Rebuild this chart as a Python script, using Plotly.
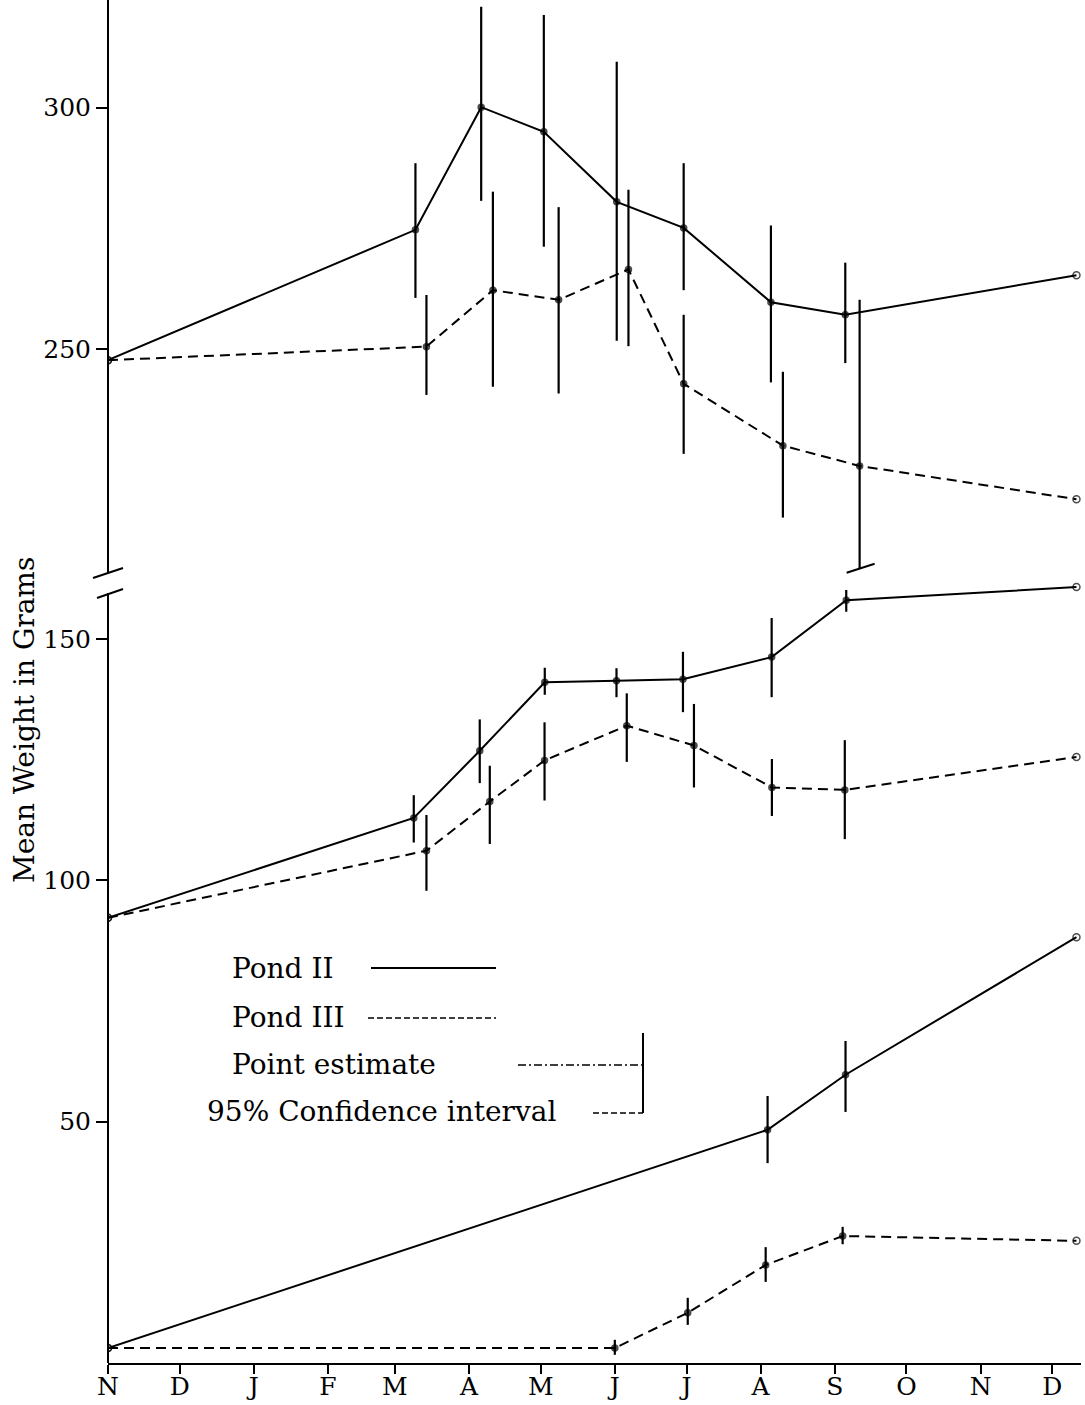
import plotly.graph_objects as go

# ---------------- data ----------------
# x values: days after 1 November; y values: mean weight (grams)
month_labels = ["N", "D", "J", "F", "M", "A", "M", "J", "J", "A", "S", "O", "N", "D"]
month_days = [0, 30, 61, 92, 120, 151, 181, 212, 242, 273, 304, 334, 365, 395]

# upper group (older fish)
days_p2_upper = [0, 128.6, 156.1, 182.3, 212.8, 240.8, 277.3, 308.4, 405.1]
p2_upper = [247.7, 274.7, 300.1, 295.0, 280.5, 275.1, 259.7, 257.1, 265.3]
p2_upper_hi = [None, 288.5, 320.9, 319.2, 309.5, 288.5, 275.6, 267.9, None]
p2_upper_lo = [None, 260.6, 280.7, 271.2, 251.7, 262.2, 243.1, 247.1, None]

days_p3_upper = [0, 133.2, 161.0, 188.5, 217.7, 240.8, 282.3, 314.4, 405.1]
p3_upper = [247.7, 250.5, 262.2, 260.2, 266.5, 242.8, 230.0, 225.8, 218.9]
p3_upper_hi = [None, 261.2, 282.6, 279.4, 283.0, 257.1, 245.3, 260.2, None]
p3_upper_lo = [None, 240.5, 242.2, 240.8, 250.6, 228.3, 215.1, 204.5, None]

# middle group
days_p2_mid = [0, 127.9, 155.5, 182.7, 212.7, 240.5, 277.6, 308.8, 405.1]
p2_mid = [92.2, 112.9, 126.8, 141.0, 141.3, 141.6, 146.2, 158.0, 160.7]
p2_mid_hi = [None, 117.6, 133.3, 144.0, 143.9, 147.3, 154.3, 160.1, None]
p2_mid_lo = [None, 107.8, 120.1, 138.4, 137.9, 134.8, 137.9, 155.6, None]

days_p3_mid = [0, 133.2, 159.7, 182.6, 217.0, 245.1, 277.7, 308.2, 405.1]
p3_mid = [92.2, 106.1, 116.3, 124.8, 132.0, 127.9, 119.2, 118.7, 125.5]
p3_mid_hi = [None, 113.5, 123.7, 132.7, 138.7, 136.5, 125.1, 129.0, None]
p3_mid_lo = [None, 97.8, 107.5, 116.5, 124.5, 119.2, 113.3, 108.5, None]

# lower group (young of the year)
days_p2_low = [0, 275.9, 308.5, 405.1]
p2_low = [3.1, 48.3, 59.7, 88.2]
p2_low_hi = [None, 55.3, 66.7, None]
p2_low_lo = [None, 41.4, 52.0, None]

days_p3_low = [0, 212.0, 242.5, 275.1, 307.3, 405.1]
p3_low = [3.1, 3.1, 10.4, 20.3, 26.3, 25.3]
p3_low_hi = [None, 4.8, 13.5, 24.0, 28.2, None]
p3_low_lo = [None, 1.7, 7.9, 16.8, 24.6, None]

y_tick_values = [50, 100, 150, 250, 300]

# ---------------- layout constants ----------------
BREAK_OFFSET = 40        # grams removed by the axis break
XMAX = 407
YMAX = 282.3
W, H = 1085, 1405
L, R, T, B = 108, 4, 0, 42
PW, PH = W - L - R, H - T - B
FONT = "DejaVu Serif"
DASH = "10px,6px"


def shifted(v):
    return v - BREAK_OFFSET if v >= 200 else v


def px(xp):
    return (xp - L) / PW


def py(yp):
    return (T + PH - yp) / PH


fig = go.Figure()


def add_group(days, vals, hi, lo, dashed):
    ys = [shifted(v) for v in vals]
    plus = [0 if h is None else h - v for h, v in zip(hi, vals)]
    minus = [0 if l is None else v - l for l, v in zip(lo, vals)]
    symbols = ["circle-open" if h is None else "circle" for h in hi]
    sizes = [7 if h is None else 6 for h in hi]
    fig.add_trace(go.Scatter(
        x=days, y=ys, mode="lines+markers",
        line=dict(color="black", width=2, dash=DASH if dashed else "solid"),
        marker=dict(symbol=symbols, size=sizes, color="black",
                    line=dict(color="black", width=1.5)),
        error_y=dict(type="data", symmetric=False, array=plus, arrayminus=minus,
                     width=0, thickness=2.2, color="black"),
        showlegend=False, hoverinfo="x+y",
    ))


add_group(days_p2_upper, p2_upper, p2_upper_hi, p2_upper_lo, False)
add_group(days_p3_upper, p3_upper, p3_upper_hi, p3_upper_lo, True)
add_group(days_p2_mid, p2_mid, p2_mid_hi, p2_mid_lo, False)
add_group(days_p3_mid, p3_mid, p3_mid_hi, p3_mid_lo, True)
add_group(days_p2_low, p2_low, p2_low_hi, p2_low_lo, False)
add_group(days_p3_low, p3_low, p3_low_hi, p3_low_lo, True)

shapes = []
# y axis line with a gap at the break
gap_lo, gap_hi = py(593), py(572)
shapes.append(dict(type="line", xref="paper", yref="paper", x0=0, x1=0, y0=0, y1=gap_lo,
                   line=dict(color="black", width=2)))
shapes.append(dict(type="line", xref="paper", yref="paper", x0=0, x1=0, y0=gap_hi, y1=1,
                   line=dict(color="black", width=2)))
# break slashes
shapes.append(dict(type="line", xref="paper", yref="paper", x0=px(93), x1=px(123),
                   y0=py(578), y1=py(568), line=dict(color="black", width=2)))
shapes.append(dict(type="line", xref="paper", yref="paper", x0=px(97), x1=px(123),
                   y0=py(598), y1=py(589), line=dict(color="black", width=2)))
# truncated confidence interval mark (Pond III, September, upper group)
sep_i = 7
shapes.append(dict(type="line", xref="x", yref="y", xsizemode="pixel", ysizemode="pixel",
                   xanchor=days_p3_upper[sep_i], yanchor=shifted(p3_upper_lo[sep_i]),
                   x0=-13, x1=15, y0=-4, y1=5, line=dict(color="black", width=2)))

# legend decorations
shapes.append(dict(type="line", xref="paper", yref="paper", x0=px(371), x1=px(496),
                   y0=py(968), y1=py(968), line=dict(color="black", width=2)))
shapes.append(dict(type="line", xref="paper", yref="paper", x0=px(368), x1=px(496),
                   y0=py(1018), y1=py(1018), line=dict(color="black", width=1.6, dash="6px,3px")))
shapes.append(dict(type="line", xref="paper", yref="paper", x0=px(518), x1=px(643),
                   y0=py(1065), y1=py(1065), line=dict(color="black", width=1.4, dash="8px,3px,2px,3px")))
shapes.append(dict(type="line", xref="paper", yref="paper", x0=px(643), x1=px(643),
                   y0=py(1033), y1=py(1113), line=dict(color="black", width=2)))
shapes.append(dict(type="line", xref="paper", yref="paper", x0=px(593), x1=px(643),
                   y0=py(1113), y1=py(1113), line=dict(color="black", width=1.6, dash="6px,3px")))

annotations = []
legend_items = [("Pond II", 230, 968), ("Pond III", 230, 1018),
                ("Point estimate", 230, 1064), ("95% Confidence interval", 205, 1111)]
for text, xp, yp in legend_items:
    annotations.append(dict(text=text, xref="paper", yref="paper", x=px(xp), y=py(yp),
                            xanchor="left", yanchor="middle", showarrow=False,
                            font=dict(family=FONT, size=28, color="black")))
annotations.append(dict(text="Mean Weight in Grams", xref="paper", yref="paper",
                        x=px(24), y=py(720), textangle=-90, xanchor="center", yanchor="middle",
                        showarrow=False, font=dict(family=FONT, size=28, color="black")))

fig.update_layout(
    width=W, height=H,
    margin=dict(l=L, r=R, t=T, b=B, pad=0),
    paper_bgcolor="white", plot_bgcolor="white",
    shapes=shapes, annotations=annotations,
    xaxis=dict(range=[0, XMAX], tickmode="array", tickvals=month_days, ticktext=month_labels,
               ticks="outside", ticklen=9, tickwidth=2, tickcolor="black",
               ticklabelstandoff=-9,
               showline=True, linecolor="black", linewidth=2, showgrid=False, zeroline=False,
               automargin=False,
               tickfont=dict(family=FONT, size=25, color="black")),
    yaxis=dict(range=[0, YMAX], tickmode="array",
               tickvals=[shifted(v) for v in y_tick_values],
               ticktext=[str(v) for v in y_tick_values],
               ticks="outside", ticklen=11, tickwidth=2, tickcolor="black",
               showline=False, showgrid=False, zeroline=False, automargin=False,
               tickfont=dict(family=FONT, size=25, color="black")),
)

fig.write_html("out.html", config={"displayModeBar": False},
               post_script="document.body.style.margin='0';document.body.style.padding='0';")
